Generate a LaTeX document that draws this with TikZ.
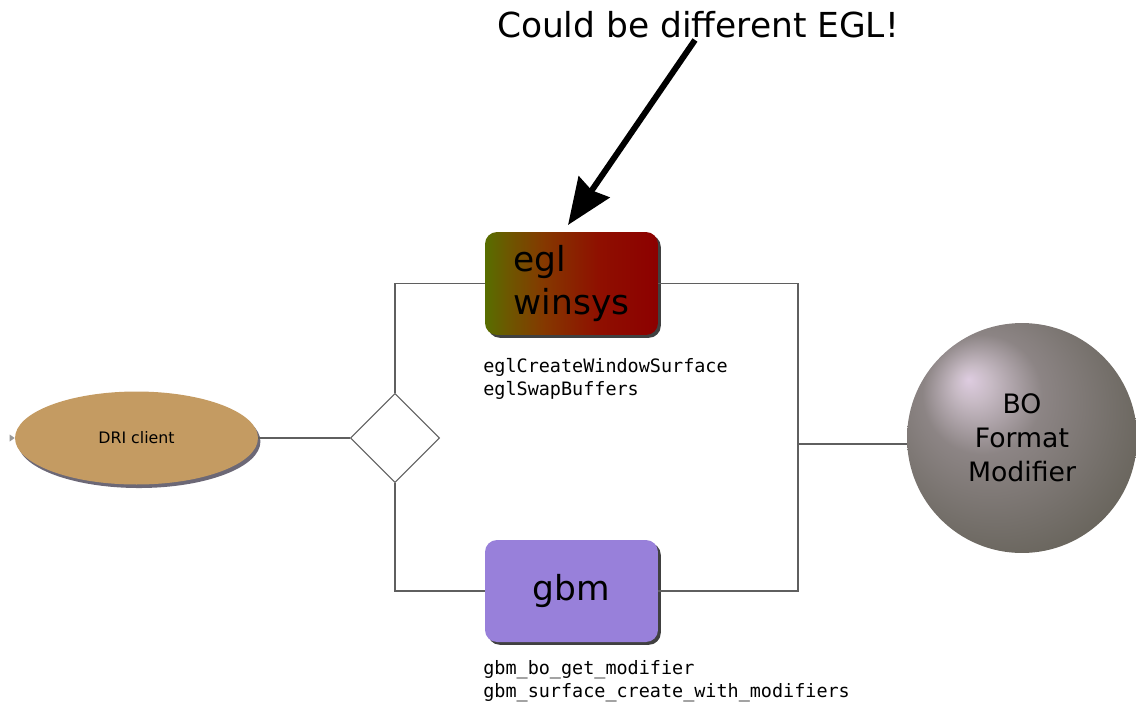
\documentclass[tikz,border=0pt]{standalone}
\usepackage{fontspec}
\setmainfont{DejaVu Sans}
\setmonofont{DejaVu Sans Mono}
\usetikzlibrary{shapes.geometric,arrows.meta,shadows,calc}

\definecolor{linegray}{RGB}{95,95,95}
\definecolor{gbmpurple}{RGB}{152,128,218}
\definecolor{dritan}{RGB}{196,155,98}
\definecolor{drishadow}{RGB}{45,40,60}

% olive-to-red fill of the winsys box (box spans 25bp..75bp)
\pgfdeclarehorizontalshading{eglshade}{100bp}{%
  rgb(0bp)=(0.34,0.43,0.0);
  rgb(25bp)=(0.34,0.43,0.0);
  rgb(31bp)=(0.42,0.35,0.0);
  rgb(42bp)=(0.52,0.22,0.0);
  rgb(58bp)=(0.56,0.06,0.0);
  rgb(75bp)=(0.55,0.0,0.0);
  rgb(100bp)=(0.55,0.0,0.0)}

% soft grey sphere with a pinkish highlight up and to the left
\pgfdeclareradialshading{bosphere}{\pgfqpoint{-11.7bp}{12.8bp}}{%
  rgb(0bp)=(0.87,0.80,0.88);
  rgb(4bp)=(0.78,0.73,0.77);
  rgb(13bp)=(0.55,0.52,0.52);
  rgb(25bp)=(0.46,0.44,0.42);
  rgb(42bp)=(0.34,0.33,0.28);
  rgb(50bp)=(0.34,0.33,0.28)}

\begin{document}
\begin{tikzpicture}[x=0.02cm,y=-0.02cm,
  conn/.style={draw=linegray, line width=0.6pt},
  apibox/.style={rectangle, rounded corners=0.24cm, minimum width=3.46cm,
    minimum height=2.06cm, inner sep=0pt,
    font=\fontsize{19.6}{25}\selectfont, text=black,
    drop shadow={shadow xshift=1.6pt, shadow yshift=-1.6pt, opacity=0.75, fill=black}},
  apitext/.style={font=\ttfamily\fontsize{10.5}{13}\selectfont, align=left,
    inner sep=0pt, anchor=north west},
  bigarrow/.style={line width=3.4pt, -{Stealth[length=0.92cm, width=0.74cm, inset=0.08cm]}}]
\useasboundingbox (0,0) rectangle (1136,704);

% title and pointer
\node (title) at (698,25) {\fontsize{19.6}{23}\selectfont Could be different EGL!};

% main nodes
\node[ellipse, fill=dritan, minimum width=4.86cm, minimum height=1.86cm, inner sep=0pt,
  font=\fontsize{9}{11}\selectfont,
  drop shadow={shadow xshift=1.4pt, shadow yshift=-2pt, opacity=0.7, fill=drishadow}]
  (dri) at (136.5,438) {DRI client};

\node[diamond, draw=linegray, line width=0.6pt, fill=white, minimum width=1.78cm,
  minimum height=1.78cm, inner sep=0pt] (sw) at (395,438) {};

\node[apibox, shading=eglshade, align=left]
  (egl) at (571.5,283.5) {egl\\winsys};

\node[apibox, fill=gbmpurple, minimum height=2.04cm] (gbm) at (571.5,591) {gbm};

\node[circle, shading=bosphere, minimum size=4.6cm, inner sep=0pt,
  font=\fontsize{15.2}{19.3}\selectfont, align=center]
  (bo) at (1022,438) {BO\\Format\\Modifier};

% API call lists
\node[apitext] (eglapi) at (483,358) {eglCreateWindowSurface\\eglSwapBuffers};
\node[apitext] (gbmapi) at (483,660) {gbm\_bo\_get\_modifier\\gbm\_surface\_create\_with\_modifiers};

% connectors
\coordinate (jn) at (798,444);
\draw[conn] (dri.east) -- (sw.west);
\draw[conn] (sw.north) |- (egl.west);
\draw[conn] (sw.south) |- (gbm.west);
\draw[conn] (egl.east) -| (jn);
\draw[conn] (gbm.east) -| (jn);
\draw[conn] (jn) -- (jn -| bo.west);

% small incoming tip on the client
\fill[gray!80] (dri.west) -- ++(-5,-3.5) -- ++(0,7) -- cycle;

% pointer arrow
\coordinate (atail) at (695,40);
\coordinate (atip) at (568,225);
\draw[bigarrow] (atail) -- (atip);
\end{tikzpicture}
\end{document}
